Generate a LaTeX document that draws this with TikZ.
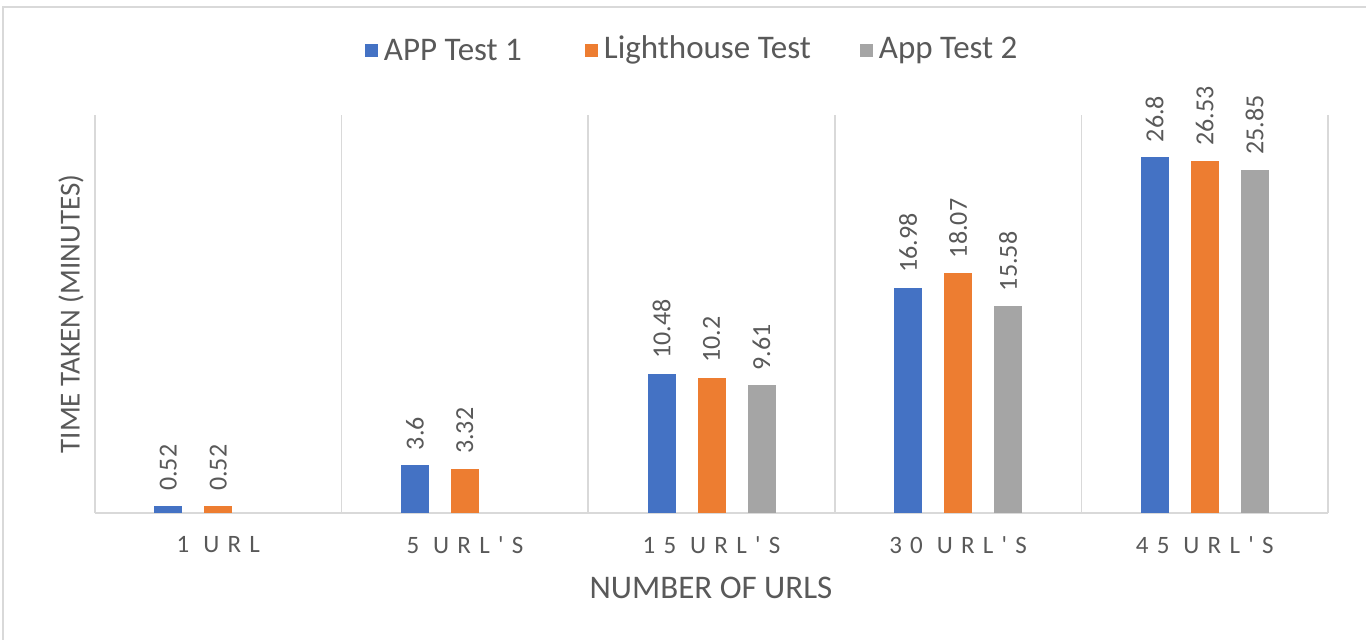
\documentclass[tikz,border=0pt]{standalone}
\usepackage{fontspec}
\setmainfont{Carlito}
\newfontfamily\catfont[LetterSpace=33]{Carlito}
\usetikzlibrary{positioning}
\definecolor{appblue}{HTML}{4472C4}
\definecolor{lhorange}{HTML}{ED7D31}
\definecolor{appgray}{HTML}{A5A5A5}
\definecolor{labelgray}{HTML}{595959}
\definecolor{gridgray}{HTML}{D9D9D9}

\begin{document}
\begin{tikzpicture}[x=1pt,y=-1pt,text=labelgray,font=\fontsize{33}{38}\selectfont]
\tikzstyle{gridline}=[draw=gridgray,line width=1.5pt]
\tikzstyle{val}=[rotate=90,anchor=west,inner sep=0pt,font=\fontsize{26}{30}\selectfont]
\tikzstyle{key}=[minimum size=13pt,inner sep=0pt]
\useasboundingbox (0,0) rectangle (1366,640);
\draw[gridline] (3,640) -- (3,7) -- (1366,7);
% plot frame
\foreach \k in {0,...,5}
  \draw[gridline] (95+246.6*\k,115) -- (95+246.6*\k,513);
\draw[gridline] (95,513) -- (1328,513);
% bars and values
\foreach \i/\lab/\a/\b/\c in {1/1 URL/0.52/0.52/0,2/5 URL'S/3.6/3.32/0,3/15 URL'S/10.48/10.2/9.61,4/30 URL'S/16.98/18.07/15.58,5/45 URL'S/26.8/26.53/25.85}{
  \pgfmathsetmacro{\cx}{95+246.6*(\i-0.5)}
  \node[font=\fontsize{25}{30}\selectfont] (cat\i) at (\cx,545) {\catfont\lab};
  \foreach \v/\dx/\col/\s in {\a/-50/appblue/a,\b/0/lhorange/b,\c/50/appgray/c}{
    \ifdim\v pt>0pt
      \fill[\col] (\cx+\dx-14,513) rectangle (\cx+\dx+14,513-13.27*\v);
      \node[val] (v\i\s) at (\cx+\dx,513-13.27*\v-15) {\v};
    \fi
  }
}
% axis titles
\node[rotate=90,font=\fontsize{29}{34}\selectfont] (ytitle) at (71,314) {TIME TAKEN (MINUTES)};
\node[font=\fontsize{33}{38}\selectfont] (xtitle) at (711,588) {NUMBER OF URLS};
% legend
\node[key,fill=appblue] (k1) at (371,50) {};
\node[right=6pt of k1,inner sep=0pt] (l1) {APP Test 1};
\node[key,fill=lhorange] (k2) at (591,50) {};
\node[right=6pt of k2,inner sep=0pt] (l2) {Lighthouse Test};
\node[key,fill=appgray] (k3) at (866,50) {};
\node[right=6pt of k3,inner sep=0pt] (l3) {App Test 2};
\end{tikzpicture}
\end{document}
